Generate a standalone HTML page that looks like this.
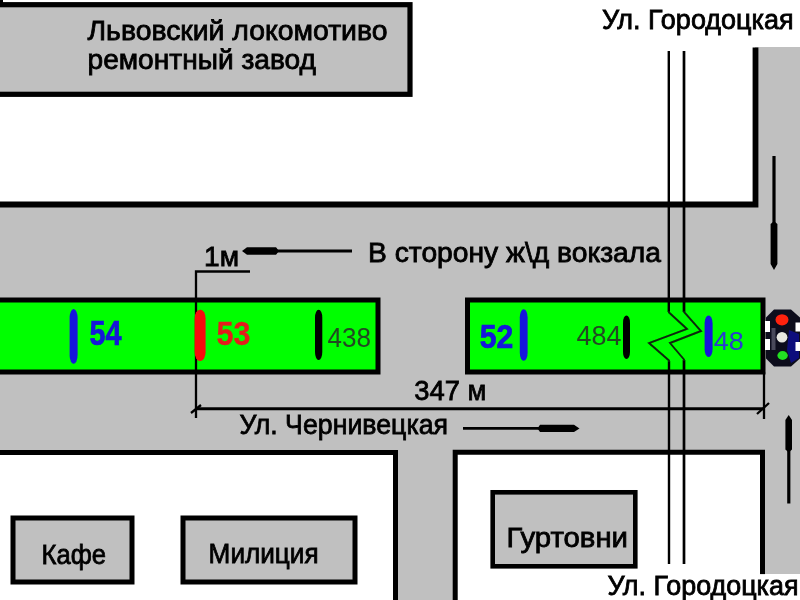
<!DOCTYPE html>
<html>
<head>
<meta charset="utf-8">
<title>Схема</title>
<style>
  html, body { margin: 0; padding: 0; background: #ffffff; }
  body { width: 800px; height: 600px; overflow: hidden; font-family: "Liberation Sans", sans-serif; }
  svg { display: block; }
  text { font-family: "Liberation Sans", sans-serif; fill: #000; }
  .lb text { stroke: #000; stroke-width: 0.8px; }
</style>
</head>
<body>
<svg width="800" height="600" viewBox="0 0 800 600">
  <defs>
    <filter id="soft" filterUnits="userSpaceOnUse" x="-20" y="-20" width="840" height="640">
      <feGaussianBlur stdDeviation="0.55"/>
    </filter>
  </defs>
  <g filter="url(#soft)">
  <!-- white base -->
  <rect x="-20" y="-20" width="840" height="640" fill="#ffffff"/>

  <!-- horizontal street (gray) -->
  <rect x="-20" y="202" width="840" height="253" fill="#c0c0c0"/>
  <!-- vertical street between the bottom blocks (gray) -->
  <rect x="390" y="450" width="70" height="170" fill="#c0c0c0"/>
  <!-- vertical street at the right (gray) -->
  <rect x="755" y="47" width="65" height="527" fill="#c0c0c0"/>

  <!-- top-left factory box -->
  <rect x="-13" y="4.7" width="423" height="89.6" fill="#c0c0c0" stroke="#000" stroke-width="5.2"/>
  <rect x="0" y="0" width="3" height="4" fill="#000"/>

  <!-- upper white block borders -->
  <path d="M-10 204.5 H755.5 V47.5" fill="none" stroke="#000" stroke-width="5.8"/>

  <!-- bottom-left white block -->
  <path d="M-13 452.5 H395.5 V613 H-13 Z" fill="#ffffff" stroke="#000" stroke-width="5"/>
  <!-- bottom-right white block -->
  <path d="M455.2 613 V452.2 H762.5 V574.5 L762.5 613 Z" fill="#ffffff" stroke="none"/>
  <path d="M455.2 613 V452.2 H762.5 V574.5" fill="none" stroke="#000" stroke-width="5"/>

  <!-- small boxes -->
  <rect x="13" y="518" width="119" height="64" fill="#c0c0c0" stroke="#000" stroke-width="5"/>
  <rect x="183" y="518" width="172" height="64" fill="#c0c0c0" stroke="#000" stroke-width="5"/>
  <rect x="492.7" y="492.3" width="142.6" height="74" fill="#c0c0c0" stroke="#000" stroke-width="4.6"/>

  <!-- green trams -->
  <rect x="-13" y="300" width="391" height="72" fill="#00ff00" stroke="#000" stroke-width="5"/>
  <rect x="467.5" y="300" width="295.5" height="72" fill="#00ff00" stroke="#000" stroke-width="5"/>

  <!-- tram track (two thin lines with zigzag break) -->
  <g fill="none" stroke="#000" stroke-width="2">
    <path d="M668.8 51 V312 M669 361 V564" stroke-width="2.4"/>
    <path d="M668.8 311 L669 312.5 L687 329 L649 343 L669 360.5 V362" stroke-width="1.9" stroke="#0a260a"/>
    <path d="M684 51 V312 M684 360 V564" stroke-width="2.7"/>
    <path d="M684 311 V312 L701 331 L670 343 L684 359.5 V361" stroke-width="1.9" stroke="#0a260a"/>
  </g>

  <!-- 1m bracket and 347 m dimension line -->
  <g fill="none" stroke="#000" stroke-width="2.3">
    <path d="M250 271.5 H196 V418"/>
    <path d="M196 408.7 H765" stroke-width="3"/>
    <path d="M764 372 V419"/>
    <path d="M191 413 L201 405 M757 414 L769 403"/>
  </g>

  <!-- bars in trams -->
  <rect x="69.6" y="309" width="8" height="54.8" rx="4" ry="9" fill="#1414dc"/>
  <rect x="194.6" y="309.7" width="11" height="51.3" rx="5" ry="9" fill="#f80c0c"/>
  <rect x="315" y="309.7" width="7.3" height="50.3" rx="3.6" ry="8" fill="#000"/>
  <rect x="519.8" y="309.3" width="7.8" height="51.5" rx="3.9" ry="8" fill="#1414dc"/>
  <rect x="623" y="315.5" width="7" height="43.5" rx="3.5" ry="7" fill="#000"/>
  <rect x="704.6" y="315.5" width="8" height="41.5" rx="4" ry="8" fill="#1414dc"/>

  <!-- tram numbers -->
  <text x="89.4" y="345.2" font-size="34.5" font-weight="bold" textLength="32" lengthAdjust="spacingAndGlyphs" style="fill:#1414dc;stroke:#1414dc;stroke-width:0.7px">54</text>
  <text x="216.5" y="344.7" font-size="33" font-weight="bold" textLength="34" lengthAdjust="spacingAndGlyphs" style="fill:#e41c1c;stroke:#e41c1c;stroke-width:0.3px">53</text>
  <text x="327.5" y="347.3" font-size="28" textLength="43.5" lengthAdjust="spacingAndGlyphs" style="fill:#244824">438</text>
  <text x="479.8" y="348.3" font-size="32.5" font-weight="bold" textLength="33.5" lengthAdjust="spacingAndGlyphs" style="fill:#1414dc;stroke:#1414dc;stroke-width:0.7px">52</text>
  <text x="576.5" y="344.7" font-size="27.5" textLength="45" lengthAdjust="spacingAndGlyphs" style="fill:#244824">484</text>
  <text x="713.8" y="350" font-size="26.5" textLength="30" lengthAdjust="spacingAndGlyphs" style="fill:#2a3ad0">48</text>

  <!-- arrows -->
  <g stroke="#000" fill="none" stroke-width="2.8">
    <path d="M276 251 H352"/>
    <path d="M463 428.4 H540"/>
    <path d="M774 156 V223" stroke-width="3.2"/>
    <path d="M788.8 450 V503.5" stroke-width="3.2"/>
  </g>
  <g fill="#000" stroke="none">
    <path d="M242 251 L247 247.3 H276 L279 251 L276 254.7 H247 Z"/>
    <path d="M579.5 428.4 L574 424.8 H540 L537.5 428.4 L540 432 H574 Z"/>
    <path d="M774 270 L770.6 264 V224 L774 221 L777.4 224 V264 Z"/>
    <path d="M788.7 415 L785.4 420 V449.5 L788.7 452.5 L792 449.5 V420 Z"/>
  </g>

  <!-- traffic light -->
  <g>
    <path d="M774 309.5 H791 L800 317.5 V358.5 L791 366.5 H774 L766 358.5 V317.5 Z" fill="#0c0c1c"/>
    <path d="M789 330 L799 334 V358 L791 363 L787 350 Z" fill="#10107c"/>
    <rect x="771.5" y="328" width="4" height="22" fill="#48485a"/>
    <rect x="765" y="321" width="5" height="11" fill="#fff"/>
    <rect x="765" y="339" width="5" height="11" fill="#fff"/>
    <rect x="795.5" y="322.5" width="4.5" height="9" fill="#fff"/>
    <rect x="795.5" y="342" width="4.5" height="9" fill="#fff"/>
    <ellipse cx="782" cy="319.8" rx="6.5" ry="5.6" fill="#ff2010"/>
    <ellipse cx="782" cy="337.3" rx="5.4" ry="5.2" fill="#e8e8e0"/>
    <ellipse cx="782.6" cy="355.5" rx="5.2" ry="4.4" fill="#20e020"/>
  </g>

  <!-- labels -->
  <g class="lb">
  <text x="87.5" y="39.7" font-size="27.5" textLength="300" lengthAdjust="spacingAndGlyphs">Львовский локомотиво</text>
  <text x="87.5" y="69.4" font-size="27.5" textLength="228.5" lengthAdjust="spacingAndGlyphs">ремонтный завод</text>
  <text x="602" y="29" font-size="27" textLength="191.5" lengthAdjust="spacingAndGlyphs">Ул. Городоцкая</text>
  <rect x="600" y="574.2" width="220" height="40" fill="#fff"/>
  <text x="607.5" y="594.6" font-size="27" textLength="191" lengthAdjust="spacingAndGlyphs">Ул. Городоцкая</text>
  <text x="204" y="266" font-size="27.5" textLength="35" lengthAdjust="spacingAndGlyphs">1м</text>
  <text x="368" y="261.7" font-size="27" textLength="293" lengthAdjust="spacingAndGlyphs">В сторону ж\д вокзала</text>
  <text x="414.3" y="399.6" font-size="28" textLength="72" lengthAdjust="spacingAndGlyphs">347 м</text>
  <text x="239.5" y="434.3" font-size="28" textLength="208.5" lengthAdjust="spacingAndGlyphs">Ул. Чернивецкая</text>
  <text x="41.5" y="564" font-size="28" textLength="64.5" lengthAdjust="spacingAndGlyphs">Кафе</text>
  <text x="208.6" y="562.9" font-size="28.5" textLength="110" lengthAdjust="spacingAndGlyphs">Милиция</text>
  <text x="506.5" y="547.2" font-size="28" textLength="121.5" lengthAdjust="spacingAndGlyphs">Гуртовни</text>
  </g>
  </g>
</svg>
</body>
</html>
